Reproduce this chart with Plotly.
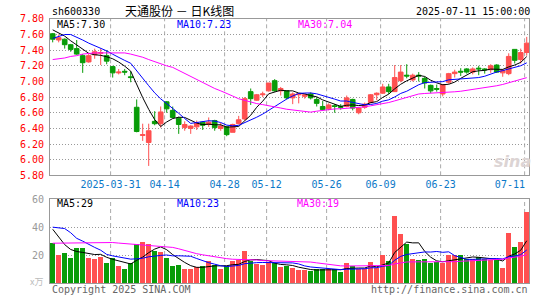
import plotly.graph_objects as go

# ---------------- data ----------------
tick_labels = ["2025-03-31", "04-14", "04-28", "05-12", "05-26", "06-09", "06-23", "07-11"]
tick_index = [10, 19, 29, 36, 46, 55, 65, 79]

open_ = [7.61, 7.53, 7.54, 7.47, 7.42, 7.33, 7.25, 7.34, 7.36, 7.33,
         7.19, 7.11, 7.13, 7.06, 6.67, 6.31, 6.22, 6.49, 6.46, 6.74,
         6.63, 6.53, 6.41, 6.40, 6.42, 6.48, 6.45, 6.50, 6.40, 6.42,
         6.35, 6.46, 6.52, 6.87, 6.76, 6.83, 6.88, 7.01, 6.88, 6.88,
         6.79, 6.83, 6.81, 6.84, 6.77, 6.68, 6.65, 6.69, 6.68, 6.68,
         6.77, 6.60, 6.67, 6.73, 6.83, 6.85, 6.93, 6.87, 7.01, 7.08,
         7.02, 7.08, 7.04, 6.95, 6.91, 6.84, 6.99, 7.10, 7.13, 7.16,
         7.12, 7.17, 7.16, 7.15, 7.21, 7.11, 7.10, 7.41, 7.28, 7.37]
high = [7.62, 7.60, 7.55, 7.48, 7.53, 7.35, 7.35, 7.42, 7.42, 7.40,
        7.20, 7.16, 7.16, 7.13, 6.77, 6.46, 6.46, 6.62, 6.68, 6.75,
        6.68, 6.55, 6.49, 6.44, 6.50, 6.49, 6.54, 6.51, 6.47, 6.43,
        6.46, 6.56, 6.80, 6.91, 6.84, 6.87, 6.98, 7.03, 6.93, 6.88,
        6.86, 6.85, 6.84, 6.86, 6.80, 6.75, 6.72, 6.71, 6.71, 6.82,
        6.78, 6.67, 6.73, 6.84, 6.86, 6.97, 6.97, 7.21, 7.21, 7.22,
        7.10, 7.12, 7.06, 6.96, 6.96, 6.96, 7.11, 7.15, 7.17, 7.17,
        7.18, 7.20, 7.17, 7.22, 7.22, 7.16, 7.36, 7.41, 7.42, 7.57]
low = [7.50, 7.50, 7.42, 7.38, 7.34, 7.11, 7.24, 7.29, 7.21, 7.22,
       7.05, 7.09, 7.08, 6.99, 6.35, 6.24, 5.92, 6.44, 6.41, 6.60,
       6.53, 6.33, 6.37, 6.33, 6.38, 6.38, 6.42, 6.37, 6.37, 6.30,
       6.35, 6.45, 6.50, 6.70, 6.75, 6.80, 6.87, 6.87, 6.82, 6.77,
       6.71, 6.72, 6.78, 6.77, 6.68, 6.63, 6.63, 6.60, 6.64, 6.67,
       6.63, 6.58, 6.65, 6.72, 6.76, 6.84, 6.84, 6.87, 6.99, 7.04,
       7.00, 7.00, 6.91, 6.85, 6.87, 6.81, 6.97, 7.05, 7.07, 7.10,
       7.09, 7.08, 7.10, 7.11, 7.11, 7.06, 7.08, 7.23, 7.23, 7.33]
close = [7.54, 7.56, 7.47, 7.41, 7.35, 7.24, 7.33, 7.38, 7.37, 7.26,
         7.11, 7.12, 7.12, 7.05, 6.36, 6.32, 6.37, 6.46, 6.61, 6.65,
         6.54, 6.45, 6.45, 6.43, 6.47, 6.44, 6.48, 6.41, 6.43, 6.32,
         6.45, 6.51, 6.78, 6.78, 6.83, 6.84, 6.98, 6.88, 6.91, 6.79,
         6.84, 6.84, 6.83, 6.79, 6.72, 6.64, 6.70, 6.68, 6.67, 6.79,
         6.66, 6.66, 6.71, 6.83, 6.85, 6.93, 6.87, 7.05, 7.12, 7.07,
         7.08, 7.07, 6.98, 6.88, 6.90, 6.96, 7.10, 7.12, 7.12, 7.12,
         7.16, 7.16, 7.15, 7.20, 7.12, 7.14, 7.32, 7.27, 7.37, 7.49]
volume = [28.5, 20.2, 21.5, 17.4, 25.2, 25.2, 17.4, 16.7, 18.2, 14.5,
          18.0, 11.7, 10.2, 13.8, 27.6, 29.5, 27.5, 23.1, 21.7, 17.5,
          11.8, 12.4, 10.2, 10.2, 11.5, 11.8, 15.3, 12.6, 10.2, 12.0,
          15.5, 16.5, 23.0, 15.8, 13.2, 12.8, 15.0, 14.2, 11.3, 11.8,
          10.3, 9.0, 9.0, 8.1, 10.2, 10.2, 9.9, 9.9, 7.5, 14.4,
          11.9, 9.9, 9.9, 15.2, 10.8, 20.1, 15.8, 47.5, 35.2, 28.0,
          17.2, 16.0, 16.8, 14.4, 14.8, 14.0, 19.6, 19.8, 19.8, 17.2,
          16.9, 18.3, 17.2, 16.3, 16.3, 10.8, 35.3, 25.3, 29.5, 50.5]

# moving-average values read off the chart where earlier days are not shown
ma5_head = [7.66, 7.62, 7.58, 7.52]
ma10_head = [7.55, 7.58, 7.60, 7.60, 7.57, 7.53, 7.49, 7.46, 7.42]
ma30_head = [7.28, 7.29, 7.30, 7.32, 7.33, 7.35, 7.36, 7.365, 7.365, 7.365,
             7.365, 7.365, 7.365, 7.35, 7.33, 7.31, 7.28, 7.25, 7.22, 7.20,
             7.18, 7.14, 7.10, 7.06, 7.02, 6.98, 6.94, 6.91, 6.88]
vma5_head = [38.5, 33.0, 27.5, 24.0]
vma10_head = [40.0, 39.5, 39.0, 36.0, 32.0, 30.0, 27.5, 25.5, 23.5]
vma30_head = [28.5, 28.6, 28.7, 28.8, 28.9, 29.0, 29.0, 29.0, 29.0, 29.0,
              29.0, 28.6, 28.2, 27.8, 27.5, 27.2, 26.9, 26.5, 26.2, 25.9,
              25.5, 24.5, 23.3, 22.0, 21.0, 20.2, 19.4, 18.6, 18.0]

price_ma_labels = ["MA5:7.30", "MA10:7.23", "MA30:7.04"]
vol_ma_labels = ["MA5:29", "MA10:23", "MA30:19"]

# ---------------- helpers ----------------
def moving_avg(vals, n, head):
    out = []
    for i in range(len(vals)):
        if i < len(head):
            out.append(head[i])
        else:
            seg = vals[i - n + 1:i + 1]
            out.append(sum(seg) / n)
    return out

n = len(close)
idx = list(range(n))
ma5 = moving_avg(close, 5, ma5_head)
ma10 = moving_avg(close, 10, ma10_head)
ma30 = moving_avg(close, 30, ma30_head)
vma5 = moving_avg(volume, 5, vma5_head)
vma10 = moving_avg(volume, 10, vma10_head)
vma30 = moving_avg(volume, 30, vma30_head)

RED = "#ff5050"
GREEN = "#089c08"
MA_COLORS = ["#000000", "#0000ff", "#ff00ff"]
MONO = "DejaVu Sans Mono"

W, H = 545, 300
ML, MR, MT, MB = 50, 16, 18, 14
PW, PH = W - ML - MR, H - MT - MB

def px_x(px):
    return (px - ML) / PW

def px_y(py):
    return (H - MB - py) / PH

XR = [-0.45, 79.38]
grid_pos = [t - 0.35 for t in tick_index]
label_limit = 76.2
label_pos = [min(g, label_limit) for g in grid_pos]

vol_colors = [RED if c >= o else GREEN for o, c in zip(open_, close)]

fig = go.Figure()
fig.add_trace(go.Candlestick(
    x=idx, open=open_, high=high, low=low, close=close,
    increasing=dict(line=dict(color=RED, width=1), fillcolor=RED),
    decreasing=dict(line=dict(color=GREEN, width=1), fillcolor=GREEN),
    whiskerwidth=0, xaxis="x", yaxis="y", showlegend=False, hoverinfo="skip"))
for arr, col in zip([ma5, ma10, ma30], MA_COLORS):
    fig.add_trace(go.Scatter(x=idx, y=arr, mode="lines", line=dict(color=col, width=1),
                             xaxis="x", yaxis="y", showlegend=False, hoverinfo="skip"))

fig.add_trace(go.Bar(x=idx, y=volume, marker=dict(color=vol_colors, line=dict(width=0)),
                     width=0.78, xaxis="x2", yaxis="y2", showlegend=False, hoverinfo="skip"))
for arr, col in zip([vma5, vma10, vma30], MA_COLORS):
    fig.add_trace(go.Scatter(x=idx, y=arr, mode="lines", line=dict(color=col, width=1),
                             xaxis="x2", yaxis="y2", showlegend=False, hoverinfo="skip"))

shapes = []
for g in grid_pos:
    for xr, yr in [("x", "y domain"), ("x2", "y2 domain")]:
        shapes.append(dict(type="line", xref=xr, yref=yr, x0=g, x1=g, y0=0, y1=1,
                           line=dict(color="#aaaaaa", width=1, dash="4px,3px"), layer="below"))

price_ticks = [round(5.8 + 0.2 * k, 2) for k in range(11)]
AXLINE = "#999999"

fig.update_layout(
    width=W, height=H,
    margin=dict(l=ML, r=MR, t=MT, b=MB),
    paper_bgcolor="white", plot_bgcolor="white",
    boxgap=0.12, boxgroupgap=0.12,
    bargap=0,
    shapes=shapes,
    xaxis=dict(domain=[0, 1], range=XR, anchor="y", showgrid=False, zeroline=False,
               showline=True, mirror=True, linecolor=AXLINE, linewidth=1,
               tickvals=label_pos, ticktext=tick_labels, ticks="",
               tickfont=dict(family=MONO, size=10, color="#0b78c8"),
               rangeslider=dict(visible=False), fixedrange=True),
    yaxis=dict(domain=[px_y(177.1), px_y(18.9)], range=[5.8, 7.8], anchor="x",
               tickvals=price_ticks, ticktext=[f"{v:.2f}" for v in price_ticks],
               tickfont=dict(family=MONO, size=10, color="#ff0000"), ticks="",
               ticklabelstandoff=3,
               showgrid=True, gridcolor="#999999", griddash="1px,2px", gridwidth=1,
               zeroline=False, showline=True, mirror=True, linecolor=AXLINE, linewidth=1),
    xaxis2=dict(domain=[0, 1], range=XR, anchor="y2", showgrid=False, zeroline=False,
                showticklabels=False, showline=True, mirror=True, linecolor=AXLINE, linewidth=1),
    yaxis2=dict(domain=[0, px_y(201.3)], range=[0, 60], anchor="x2",
                tickvals=[20, 40, 60], ticktext=["20", "40", "60"],
                tickfont=dict(family=MONO, size=10, color="#999999"), ticks="",
                ticklabelstandoff=3,
                showgrid=True, gridcolor="#999999", griddash="1px,2px", gridwidth=1,
                zeroline=False, showline=True, mirror=True, linecolor=AXLINE, linewidth=1),
)

ann = []
def text(t, x, y, color="#000000", anchor="left", size=10, family=MONO, **kw):
    ann.append(dict(text=t, x=px_x(x), y=px_y(y), xref="paper", yref="paper",
                    xanchor=anchor, yanchor="middle", showarrow=False,
                    font=dict(family=family, size=size, color=color, **kw)))

text("sh600330", 50, 11)
text("天通股份 － 日K线图", 179, 10, anchor="center", size=12, family="Noto Sans CJK SC")
text("2025-07-11 15:00:00", 532, 11, anchor="right")
for lbl, xp, col in zip(price_ma_labels, [54.9, 175.4, 296.3], MA_COLORS):
    text(lbl, xp, 25, color=col)
for lbl, xp, col in zip(vol_ma_labels, [54.7, 174.7, 294.7], MA_COLORS):
    text(lbl, xp, 205.5, color=col)
text("Copyright 2025 SINA.COM", 50, 292.7, color="#666666")
text("http://finance.sina.com.cn", 529.5, 292.7, color="#666666", anchor="right")
text("x万", 28, 284.5, color="#bbbbbb", size=9, family="Noto Sans CJK SC")
text("sina", 512, 163, color="#dcd4d4", anchor="center", size=16, family="DejaVu Sans",
     weight="bold", style="italic")
fig.update_layout(annotations=ann)

fig.write_html("out.html")
